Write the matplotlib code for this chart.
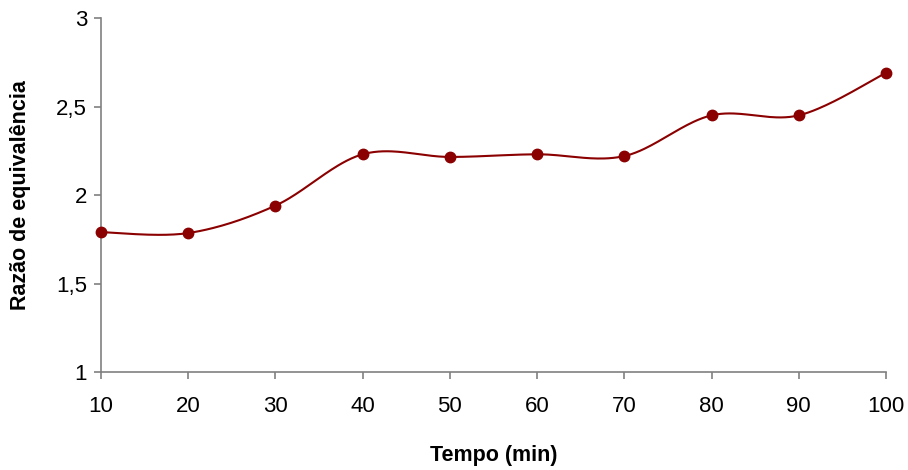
# equivalence ratio vs time (smoothed line like the Excel chart)

import numpy as np
import matplotlib.pyplot as plt

plt.rcParams['font.family'] = ['Liberation Sans', 'DejaVu Sans']

# Data
tempo = [10, 20, 30, 40, 50, 60, 70, 80, 90, 100]
razao = [1.79, 1.785, 1.94, 2.23, 2.215, 2.23, 2.22, 2.45, 2.45, 2.69]

y_ticks = [1, 1.5, 2, 2.5, 3]
y_tick_labels = ['1', '1,5', '2', '2,5', '3']
x_ticks = [10, 20, 30, 40, 50, 60, 70, 80, 90, 100]


def smooth_curve(x, y, n=40):
    # Catmull-Rom style curve through the points (Excel "smoothed line")
    x = np.asarray(x, float)
    y = np.asarray(y, float)
    px = np.concatenate([[x[0]], x, [x[-1]]])
    py = np.concatenate([[y[0]], y, [y[-1]]])
    xs, ys = [], []
    t = np.linspace(0, 1, n)
    for i in range(1, len(px) - 2):
        p0 = np.array([px[i], py[i]])
        p3 = np.array([px[i + 1], py[i + 1]])
        c1 = p0 + (np.array([px[i + 1], py[i + 1]]) - np.array([px[i - 1], py[i - 1]])) / 6
        c2 = p3 - (np.array([px[i + 2], py[i + 2]]) - np.array([px[i], py[i]])) / 6
        b = ((1 - t) ** 3)[:, None] * p0 + (3 * (1 - t) ** 2 * t)[:, None] * c1 \
            + (3 * (1 - t) * t ** 2)[:, None] * c2 + (t ** 3)[:, None] * p3
        xs.extend(b[:, 0])
        ys.extend(b[:, 1])
    return xs, ys


fig = plt.figure(figsize=(9.08, 4.70), dpi=100)
ax = fig.add_axes([0.1112, 0.2085, 0.8646, 0.7532])

sx, sy = smooth_curve(tempo, razao)
ax.plot(sx, sy, color='#8B0000', linewidth=1.5, clip_on=False)
ax.plot(tempo, razao, linestyle='none', marker='o', markersize=7.5,
        color='#8B0000', clip_on=False, zorder=3)

ax.set_xlim(10, 100)
ax.set_ylim(1, 3)
ax.set_xticks(x_ticks)
ax.set_yticks(y_ticks)
ax.set_yticklabels(y_tick_labels)

for side in ['top', 'right']:
    ax.spines[side].set_visible(False)
for side in ['left', 'bottom']:
    ax.spines[side].set_color('#808080')
    ax.spines[side].set_linewidth(1.2)
ax.tick_params(axis='both', direction='out', length=5, color='#808080',
               labelsize=16, width=1.2)
ax.tick_params(axis='x', pad=12)
ax.tick_params(axis='y', pad=5)

ax.set_xlabel('Tempo (min)', fontsize=15.5, fontweight='bold')
ax.set_ylabel('Razão de equivalência', fontsize=15.5, fontweight='bold')
ax.xaxis.set_label_coords(0.5, -0.205)
ax.yaxis.set_label_coords(-0.089, 0.5)

fig.savefig('out.png', dpi=100)
